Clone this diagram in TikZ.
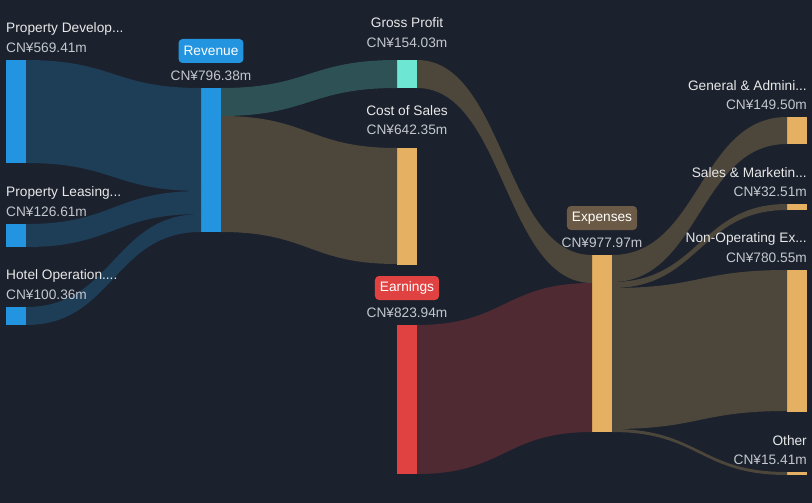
\documentclass[tikz,border=0pt]{standalone}
\usepackage{fontspec}
\setmainfont{Liberation Sans}
\usepackage{tikz}
\usetikzlibrary{positioning, calc}
\definecolor{bgcol}{HTML}{1B212D}
\definecolor{revblue}{HTML}{2394DF}
\definecolor{inflow}{HTML}{1E3D56}
\definecolor{gpteal}{HTML}{6EE6D4}
\definecolor{gpflow}{HTML}{2E5156}
\definecolor{costtan}{HTML}{E5B061}
\definecolor{brownflow}{HTML}{4C463B}
\definecolor{earnred}{HTML}{E04141}
\definecolor{redflow}{HTML}{4F2A33}
\definecolor{expbadge}{HTML}{6B5A45}
\definecolor{lblcol}{HTML}{E8E8E8}
\definecolor{valcol}{HTML}{C4C7CD}

% flow band: from node, offset, to node, offset, thickness, colour
\newcommand{\flow}[6]{%
  \path ($(#1.north east)+(0,-#2pt)$) coordinate (fa)
        ($(#3.north west)+(0,-#4pt)$) coordinate (ta);
  \fill[#6] let \p1=(fa), \p2=(ta), \n1={(\x1+\x2)/2} in
    (\p1) .. controls (\n1,\y1) and (\n1,\y2) .. (\p2)
    -- (\x2,\y2-#5pt) .. controls (\n1,\y2-#5pt) and (\n1,\y1-#5pt) .. (\x1,\y1-#5pt) -- cycle;
}

\begin{document}
\begin{tikzpicture}[
    x=1pt, y=-1pt,
    bar/.style={rectangle, inner sep=0pt, outer sep=0pt, minimum width=20pt, anchor=north west},
    lbl/.style={text=lblcol, font=\fontsize{13.7}{16}\selectfont, inner sep=0pt},
    val/.style={text=valcol, font=\fontsize{13.7}{16}\selectfont, inner sep=0pt},
    badge/.style={rounded corners=4pt, text=white, font=\fontsize{13.7}{16}\selectfont, inner xsep=5pt, minimum height=24pt}
]
    \fill[bgcol] (0,0) rectangle (812,503);
    \useasboundingbox (0,0) rectangle (812,503);

    % Bars - left column
    \node[bar, fill=revblue, minimum height=103pt] (pdev) at (6,60) {};
    \node[bar, fill=revblue, minimum height=23pt] (lease) at (6,224) {};
    \node[bar, fill=revblue, minimum height=18pt] (hotel) at (6,307) {};

    % Bars - revenue
    \node[bar, fill=revblue, minimum height=144pt] (rev) at (201,88) {};

    % Bars - middle column
    \node[bar, fill=gpteal, minimum height=28pt] (gp) at (397,60) {};
    \node[bar, fill=costtan, minimum height=117pt] (cos) at (397,148) {};
    \node[bar, fill=earnred, minimum height=149pt] (earn) at (397,325) {};

    % Bars - expenses
    \node[bar, fill=costtan, minimum height=177pt] (exp) at (592,255) {};

    % Bars - right column
    \node[bar, fill=costtan, minimum height=27pt] (ga) at (787,117) {};
    \node[bar, fill=costtan, minimum height=6pt] (sm) at (787,204) {};
    \node[bar, fill=costtan, minimum height=142pt] (nonop) at (787,270) {};
    \node[bar, fill=costtan, minimum height=3pt] (other) at (787,472) {};

    % Flows
    \flow{pdev}{0}{rev}{0}{103}{inflow}
    \flow{lease}{0}{rev}{103}{23}{inflow}
    \flow{hotel}{0}{rev}{126}{18}{inflow}
    \flow{rev}{0}{gp}{0}{28}{gpflow}
    \flow{rev}{28}{cos}{0}{116}{brownflow}
    \flow{gp}{0}{exp}{0}{28}{brownflow}
    \flow{earn}{0}{exp}{28}{149}{redflow}
    \flow{exp}{0}{ga}{0}{27}{brownflow}
    \flow{exp}{27}{sm}{0}{6}{brownflow}
    \flow{exp}{33}{nonop}{0}{141}{brownflow}
    \flow{exp}{174}{other}{0}{3}{brownflow}

    % Labels - left
    \node[lbl, anchor=west] (pdevname) at (6,29) {Property Develop...};
    \node[val, anchor=west] (pdevval) at (6,48) {CN¥569.41m};
    \node[lbl, anchor=west] (leasename) at (6,193) {Property Leasing...};
    \node[val, anchor=west] (leaseval) at (6,212) {CN¥126.61m};
    \node[lbl, anchor=west] (hotelname) at (6,276) {Hotel Operation....};
    \node[val, anchor=west] (hotelval) at (6,295) {CN¥100.36m};

    % Labels - revenue
    \node[badge, fill=revblue] (revname) at (211,51) {Revenue};
    \node[val] (revval) at (211,76) {CN¥796.38m};

    % Labels - middle
    \node[lbl] (gpname) at (407,23) {Gross Profit};
    \node[val] (gpval) at (407,43) {CN¥154.03m};
    \node[lbl] (cosname) at (407,111) {Cost of Sales};
    \node[val] (cosval) at (407,130) {CN¥642.35m};
    \node[badge, fill=earnred] (earnname) at (407,288) {Earnings};
    \node[val] (earnval) at (407,313) {CN¥823.94m};

    % Labels - expenses
    \node[badge, fill=expbadge] (expname) at (602,218) {Expenses};
    \node[val] (expval) at (602,243) {CN¥977.97m};

    % Labels - right
    \node[lbl, anchor=east] (ganame) at (807,86) {General \& Admini...};
    \node[val, anchor=east] (gaval) at (807,105) {CN¥149.50m};
    \node[lbl, anchor=east] (smname) at (807,173) {Sales \& Marketin...};
    \node[val, anchor=east] (smval) at (807,192) {CN¥32.51m};
    \node[lbl, anchor=east] (nonopname) at (807,239) {Non-Operating Ex...};
    \node[val, anchor=east] (nonopval) at (807,258) {CN¥780.55m};
    \node[lbl, anchor=east] (othername) at (807,441) {Other};
    \node[val, anchor=east] (otherval) at (807,460) {CN¥15.41m};
\end{tikzpicture}
\end{document}
